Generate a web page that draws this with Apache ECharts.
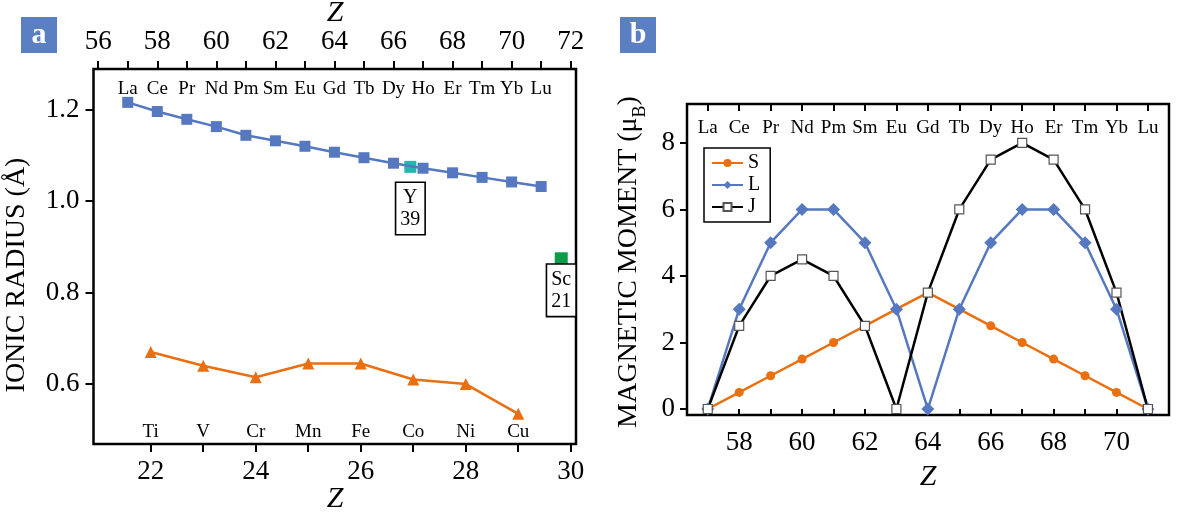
<!DOCTYPE html>
<html>
<head>
<meta charset="utf-8">
<script src="https://cdn.jsdelivr.net/npm/echarts@6/dist/echarts.min.js"></script>
<style>
html, body { margin: 0; background: #fff; }
#chart { width: 1200px; height: 513px; }
</style>
</head>
<body>
<div id="chart"></div>
<script>
// lanthanides (panel a top axis, panel b)
var lanNames = ['La', 'Ce', 'Pr', 'Nd', 'Pm', 'Sm', 'Eu', 'Gd', 'Tb', 'Dy', 'Ho', 'Er', 'Tm', 'Yb', 'Lu'];
var lanZ = [57, 58, 59, 60, 61, 62, 63, 64, 65, 66, 67, 68, 69, 70, 71];
var lanRadius = [1.216, 1.196, 1.179, 1.163, 1.144, 1.132, 1.120, 1.107, 1.095, 1.083, 1.072, 1.062, 1.052, 1.042, 1.032];
// 3d metals (panel a bottom axis)
var tmNames = ['Ti', 'V', 'Cr', 'Mn', 'Fe', 'Co', 'Ni', 'Cu'];
var tmZ = [22, 23, 24, 25, 26, 27, 28, 29];
var tmRadius = [0.67, 0.64, 0.615, 0.645, 0.645, 0.61, 0.60, 0.535];
// Y and Sc, drawn against the top Z axis
var yttrium = { name: 'Y', z: 39, at: 66.57, radius: 1.075 };
var scandium = { name: 'Sc', z: 21, at: 71.68, radius: 0.874 };
// magnetic moments
var momS = [0, 0.5, 1, 1.5, 2, 2.5, 3, 3.5, 3, 2.5, 2, 1.5, 1, 0.5, 0];
var momL = [0, 3, 5, 6, 6, 5, 3, 0, 3, 5, 6, 6, 5, 3, 0];
var momJ = [0, 2.5, 4, 4.5, 4, 2.5, 0, 3.5, 6, 7.5, 8, 7.5, 6, 3.5, 0];
// tick labels
var ticksTopA = [56, 58, 60, 62, 64, 66, 68, 70, 72];
var ticksBottomA = [22, 24, 26, 28, 30];
var ticksRadius = [0.6, 0.8, 1.0, 1.2];
var ticksZb = [58, 60, 62, 64, 66, 68, 70];
var ticksMoment = [0, 2, 4, 6, 8];

var FONT = 'Liberation Serif';
var BLUE = '#5578c0', ORANGE = '#e96f10';

function range(a, b) { var r = []; for (var i = a; i <= b; i++) r.push(i); return r; }
function pairs(xs, ys) { return xs.map(function (x, i) { return [x, ys[i]]; }); }
function nameLabels(xs, names, y) {
    return xs.map(function (x, i) { return { value: [x, y], name: names[i] }; });
}

var axisText = { fontFamily: FONT, fontSize: 27, color: '#000' };
var tickStyle = { color: '#000', width: 2 };
var nameLabel = { show: true, position: 'inside', formatter: '{b}', fontFamily: FONT, fontSize: 19, color: '#000', opacity: 1 };

var chart = echarts.init(document.getElementById('chart'));
chart.setOption({
    animation: false,
    backgroundColor: '#fff',
    textStyle: { fontFamily: FONT },
    grid: [
        { left: 93.5, right: 624, top: 69, bottom: 69, show: true, borderColor: '#000', borderWidth: 2.5 },
        { left: 687, right: 31, top: 104, bottom: 98, show: true, borderColor: '#000', borderWidth: 2.5 }
    ],
    xAxis: [
        { type: 'value', gridIndex: 0, position: 'bottom', min: 20.91, max: 30.10,
          axisLine: { show: false }, splitLine: { show: false },
          axisTick: { length: 8, lineStyle: tickStyle, customValues: range(22, 30) },
          axisLabel: Object.assign({ margin: 14, customValues: ticksBottomA }, axisText) },
        { type: 'value', gridIndex: 0, position: 'top', min: 55.84, max: 72.18,
          axisLine: { show: false }, splitLine: { show: false },
          axisTick: { length: 8, lineStyle: tickStyle, customValues: range(56, 72) },
          axisLabel: Object.assign({ margin: 14, customValues: ticksTopA }, axisText) },
        { type: 'value', gridIndex: 1, position: 'bottom', min: 56.34, max: 71.67,
          axisLine: { show: false }, splitLine: { show: false },
          axisTick: { length: 7, lineStyle: tickStyle, customValues: range(57, 71) },
          axisLabel: Object.assign({ margin: 14, customValues: ticksZb }, axisText) },
        { type: 'value', gridIndex: 1, position: 'top', min: 56.34, max: 71.67,
          axisLine: { show: false }, splitLine: { show: false },
          axisTick: { inside: true, length: 7, lineStyle: tickStyle, customValues: range(57, 71) },
          axisLabel: { show: false } }
    ],
    yAxis: [
        { type: 'value', gridIndex: 0, min: 0.469, max: 1.289,
          axisLine: { show: false }, splitLine: { show: false },
          axisTick: { length: 8, lineStyle: tickStyle, customValues: ticksRadius },
          axisLabel: Object.assign({ margin: 14, customValues: ticksRadius,
              formatter: function (v) { return v.toFixed(1); } }, axisText) },
        { type: 'value', gridIndex: 1, min: -0.18, max: 9.17,
          axisLine: { show: false }, splitLine: { show: false },
          axisTick: { length: 7, lineStyle: tickStyle, customValues: ticksMoment },
          axisLabel: Object.assign({ margin: 12, customValues: ticksMoment }, axisText) }
    ],
    legend: {
        data: ['S', 'L', 'J'],
        orient: 'vertical', left: 704, top: 148,
        itemWidth: 31, itemHeight: 10, itemGap: 2,
        padding: [5, 10, 5, 7],
        borderColor: '#000', borderWidth: 1.5,
        textStyle: { fontFamily: FONT, fontSize: 20, color: '#000' }
    },
    series: [
        // panel a
        { name: 'Ln radius', type: 'line', xAxisIndex: 1, yAxisIndex: 0,
          data: pairs(lanZ, lanRadius), symbol: 'rect', symbolSize: 11,
          lineStyle: { color: BLUE, width: 2.5 }, itemStyle: { color: BLUE } },
        { name: 'TM radius', type: 'line', xAxisIndex: 0, yAxisIndex: 0,
          data: pairs(tmZ, tmRadius), symbol: 'triangle', symbolSize: 12,
          lineStyle: { color: ORANGE, width: 2.5 }, itemStyle: { color: ORANGE } },
        { name: 'Y', type: 'scatter', xAxisIndex: 1, yAxisIndex: 0,
          data: [[yttrium.at, yttrium.radius]], symbol: 'rect', symbolSize: 12,
          itemStyle: { color: '#22b8ae', opacity: 1 } },
        { name: 'Sc', type: 'scatter', xAxisIndex: 1, yAxisIndex: 0,
          data: [[scandium.at, scandium.radius]], symbol: 'rect', symbolSize: 13,
          itemStyle: { color: '#0f9c4a', opacity: 1 } },
        { name: 'boxes', type: 'scatter', xAxisIndex: 1, yAxisIndex: 0, symbolSize: 0, silent: true,
          itemStyle: { opacity: 1 },
          data: [
              { value: [yttrium.at, 0.984], name: yttrium.name + '\n' + yttrium.z },
              { value: [scandium.at, 0.805], name: scandium.name + '\n' + scandium.z }
          ],
          label: { show: true, position: 'inside', formatter: '{b}', fontFamily: FONT, fontSize: 20,
                   color: '#000', opacity: 1, lineHeight: 22, backgroundColor: '#fff', borderColor: '#000',
                   borderWidth: 1.6, padding: [4, 4, 3, 4] } },
        { name: 'ln names a', type: 'scatter', xAxisIndex: 1, yAxisIndex: 0, symbolSize: 0, silent: true,
          itemStyle: { opacity: 1 }, data: nameLabels(lanZ, lanNames, 1.246), label: nameLabel },
        { name: 'tm names', type: 'scatter', xAxisIndex: 0, yAxisIndex: 0, symbolSize: 0, silent: true,
          itemStyle: { opacity: 1 }, data: nameLabels(tmZ, tmNames, 0.496), label: nameLabel },
        // panel b
        { name: 'S', type: 'line', xAxisIndex: 2, yAxisIndex: 1,
          data: pairs(lanZ, momS), symbol: 'circle', symbolSize: 9,
          lineStyle: { color: ORANGE, width: 2.5 }, itemStyle: { color: ORANGE } },
        { name: 'L', type: 'line', xAxisIndex: 2, yAxisIndex: 1,
          data: pairs(lanZ, momL), symbol: 'diamond', symbolSize: 13,
          lineStyle: { color: BLUE, width: 2.5 }, itemStyle: { color: BLUE } },
        { name: 'J', type: 'line', xAxisIndex: 2, yAxisIndex: 1,
          data: pairs(lanZ, momJ), symbol: 'rect', symbolSize: 9,
          lineStyle: { color: '#000', width: 2.5 },
          itemStyle: { color: '#fff', borderColor: '#555', borderWidth: 1.2 } },
        { name: 'ln names b', type: 'scatter', xAxisIndex: 2, yAxisIndex: 1, symbolSize: 0, silent: true,
          itemStyle: { opacity: 1 }, data: nameLabels(lanZ, lanNames, 8.45), label: nameLabel }
    ],
    graphic: [
        { type: 'rect', left: 21, top: 17, shape: { width: 36, height: 36 }, style: { fill: '#5a7fc2' } },
        { type: 'text', x: 39, y: 35, style: { text: 'a', fill: '#fff', font: 'bold 30px "' + FONT + '"', align: 'center', verticalAlign: 'middle' } },
        { type: 'rect', left: 620, top: 17, shape: { width: 36, height: 36 }, style: { fill: '#5a7fc2' } },
        { type: 'text', x: 638, y: 35, style: { text: 'b', fill: '#fff', font: 'bold 30px "' + FONT + '"', align: 'center', verticalAlign: 'middle' } },
        { type: 'text', x: 335, y: 13, style: { text: 'Z', fill: '#000', font: 'italic 30px "' + FONT + '"', align: 'center', verticalAlign: 'middle' } },
        { type: 'text', x: 335, y: 499, style: { text: 'Z', fill: '#000', font: 'italic 30px "' + FONT + '"', align: 'center', verticalAlign: 'middle' } },
        { type: 'text', x: 928, y: 477, style: { text: 'Z', fill: '#000', font: 'italic 30px "' + FONT + '"', align: 'center', verticalAlign: 'middle' } },
        { type: 'text', x: 17, y: 275, rotation: Math.PI / 2,
          style: { text: 'IONIC RADIUS (Å)', fill: '#000', font: '28px "' + FONT + '"', align: 'center', verticalAlign: 'middle' } },
        { type: 'text', x: 632, y: 262, rotation: Math.PI / 2,
          style: { text: '{a|MAGNETIC MOMENT (μ}{b|B}{a|)}', align: 'center', verticalAlign: 'middle',
                   rich: { a: { fontFamily: FONT, fontSize: 28, color: '#000', lineHeight: 34, verticalAlign: 'top' },
                           b: { fontFamily: FONT, fontSize: 18, color: '#000', lineHeight: 18, verticalAlign: 'bottom' } } } }
    ]
});
</script>
</body>
</html>
